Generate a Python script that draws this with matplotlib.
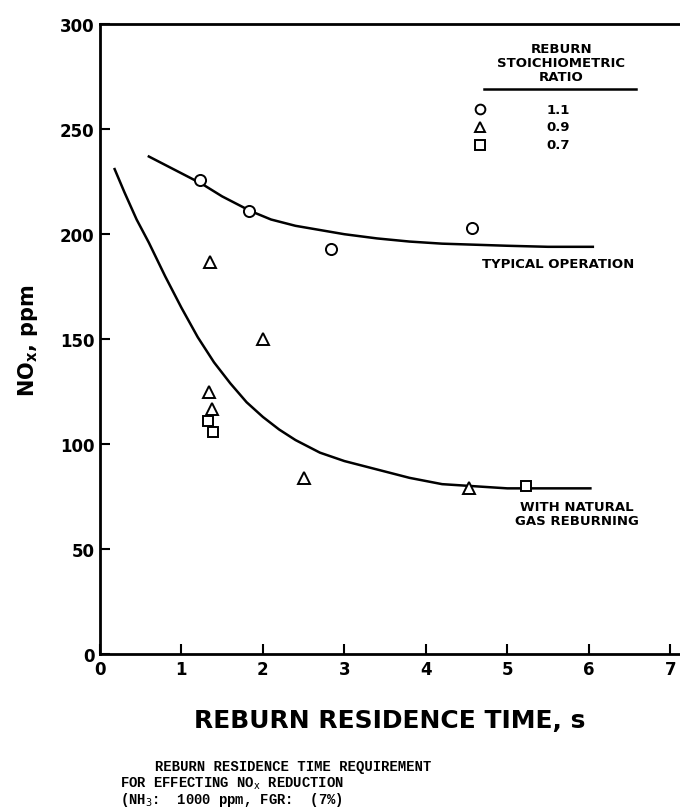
import matplotlib.pyplot as plt

# measured points, NOx (ppm) vs reburn residence time (s)
t_11 = [1.23, 1.83, 2.84, 4.57]
nox_11 = [226, 211, 193, 203]
t_09 = [1.35, 2.0, 1.34, 1.38, 2.5, 4.53]
nox_09 = [187, 150, 125, 117, 84, 79]
t_07 = [1.33, 1.39, 5.23]
nox_07 = [111, 106, 80]

# hand-drawn trend curves
t_typ = [0.60, 0.80, 1.00, 1.25, 1.50, 1.85, 2.10, 2.40, 2.70, 3.00, 3.40,
         3.80, 4.20, 4.60, 5.00, 5.50, 6.05]
nox_typ = [237, 233, 229, 224, 218, 211, 207, 204, 202, 200, 198,
           196.5, 195.5, 195, 194.5, 194, 194]
t_reb = [0.18, 0.30, 0.45, 0.60, 0.80, 1.00, 1.20, 1.40, 1.60, 1.80, 2.00,
         2.20, 2.40, 2.70, 3.00, 3.40, 3.80, 4.20, 4.60, 5.00, 5.50, 6.02]
nox_reb = [231, 220, 207, 196, 180, 165, 151, 139, 129, 120, 113,
           107, 102, 96, 92, 88, 84, 81, 80, 79, 79, 79]

legend_vals = ["1.1", "0.9", "0.7"]
legend_marks = ["o", "^", "s"]

fig = plt.figure(figsize=(6.8, 8.12), dpi=100)
ax = fig.add_axes([0.147, 0.193, 0.853, 0.776])

mk = dict(linestyle="none", mfc="white", mec="black", mew=1.4, ms=8)
ax.plot(t_typ, nox_typ, color="black", lw=1.8, solid_joinstyle="round")
ax.plot(t_reb, nox_reb, color="black", lw=1.8, solid_joinstyle="round")
ax.plot(t_11, nox_11, marker="o", **mk)
ax.plot(t_09, nox_09, marker="^", **mk)
ax.plot(t_07, nox_07, marker="s", **dict(mk, ms=7))

ax.set_xlim(0, 7.12)
ax.set_ylim(0, 300)
ax.set_xticks(range(0, 8))
ax.set_yticks(range(0, 301, 50))
ax.tick_params(direction="in", length=7, width=1.5, labelsize=12, pad=4)
for lab in ax.get_xticklabels() + ax.get_yticklabels():
    lab.set_fontweight("bold")
ax.spines["right"].set_visible(False)
for s in ["left", "bottom", "top"]:
    ax.spines[s].set_linewidth(2)

ax.set_xlabel("REBURN RESIDENCE TIME, s", fontsize=18, fontweight="bold", labelpad=22)
ax.set_ylabel("NO$_\\mathbf{x}$, ppm", fontsize=15, fontweight="bold", labelpad=14)

ax.text(4.69, 186, "TYPICAL OPERATION", fontsize=9.5, fontweight="bold", va="center")
ax.text(5.85, 67, "WITH NATURAL\nGAS REBURNING", fontsize=9.5, fontweight="bold",
        va="center", ha="center", linespacing=1.05)

# hand-made legend box
ax.text(0.795, 0.939, "REBURN\nSTOICHIOMETRIC\nRATIO", transform=ax.transAxes,
        ha="center", va="center", fontsize=9.5, fontweight="bold", linespacing=1.1)
ax.plot([0.662, 0.925], [0.897, 0.897], transform=ax.transAxes, color="black", lw=1.8)
for i, (m, v) in enumerate(zip(legend_marks, legend_vals)):
    yy = 0.865 - i * 0.028
    ax.plot([0.655], [yy], marker=m, transform=ax.transAxes, **dict(mk, ms=7))
    ax.text(0.79, yy, v, transform=ax.transAxes, ha="center", va="center",
            fontsize=9.5, fontweight="bold")

cap = dict(family="Liberation Mono", fontsize=10, fontweight="bold", ha="left", va="center")
fig.text(155 / 680, 1 - 767 / 812, "REBURN RESIDENCE TIME REQUIREMENT", **cap)
fig.text(120 / 680, 1 - 784 / 812, "FOR EFFECTING NO$_\\mathrm{x}$ REDUCTION", **cap)
fig.text(120 / 680, 1 - 800 / 812, "(NH$_3$:  1000 ppm, FGR:  (7%)", **cap)

fig.savefig("out.png", dpi=100)
